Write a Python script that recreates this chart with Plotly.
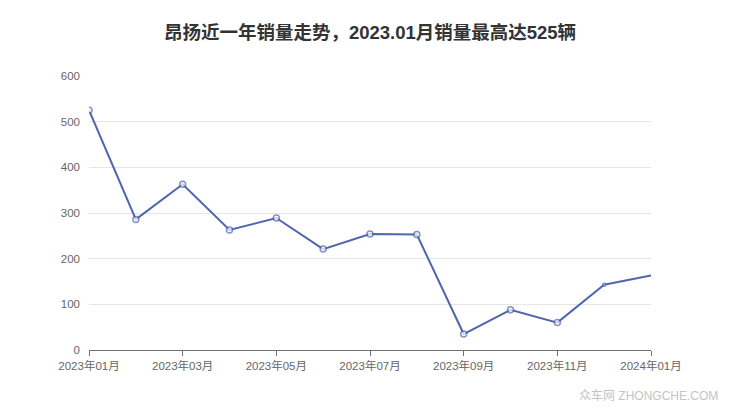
import plotly.graph_objects as go

months = ["2023年01月", "2023年02月", "2023年03月", "2023年04月", "2023年05月", "2023年06月",
          "2023年07月", "2023年08月", "2023年09月", "2023年10月", "2023年11月", "2023年12月",
          "2024年01月"]
sales = [525, 286, 363, 263, 289, 221, 254, 253, 35, 88, 60, 143, 163]
tick_labels = ["2023年01月", "2023年03月", "2023年05月", "2023年07月", "2023年09月", "2023年11月", "2024年01月"]

marker_sizes = [6] * (len(sales) - 2) + [3, 0]

fig = go.Figure()
fig.add_trace(go.Scatter(
    x=months, y=sales, mode="lines+markers",
    line=dict(color="#4f66ae", width=2),
    marker=dict(symbol="circle", size=marker_sizes, color="white",
                line=dict(color="#4f66ae", width=1.5)),
    hoverinfo="x+y", showlegend=False,
))

font_family = "Liberation Sans, Arial, Noto Sans CJK SC, sans-serif"
fig.update_layout(
    width=740, height=417,
    margin=dict(l=81, r=97, t=68, b=75),
    paper_bgcolor="white", plot_bgcolor="white",
    font=dict(family=font_family, size=11, color="#666"),
    title=dict(text="<b>昂扬近一年销量走势，2023.01月销量最高达525辆</b>",
               x=(370 - 8) / 740, xanchor="center", y=1 - (33 - 8) / 417, yanchor="middle",
               font=dict(size=18.5, color="#333", family=font_family)),
    xaxis=dict(
        type="category", range=[0, 12],
        tickmode="array", tickvals=tick_labels, ticktext=tick_labels,
        showgrid=False, showline=True, linecolor="#6e7079", linewidth=1,
        ticks="outside", ticklen=5, tickcolor="#6e7079",
        tickfont=dict(size=11.5, color="#666"), zeroline=False,
    ),
    yaxis=dict(
        range=[0, 600], tickvals=[0, 100, 200, 300, 400, 500, 600],
        showgrid=True, gridcolor="#e6e6e6", gridwidth=1,
        showline=False, zeroline=False, ticks="", ticklabelstandoff=8,
        tickfont=dict(size=11.5, color="#666"),
    ),
    annotations=[dict(
        text="众车网 ZHONGCHE.COM", xref="paper", yref="paper",
        x=1.0 + 69/562, y=-(398 - 350 + 7)/274, xanchor="right", yanchor="bottom",
        showarrow=False, font=dict(size=12, color="#c4c4c4", family=font_family),
    )],
)

fig.write_html("out.html")
